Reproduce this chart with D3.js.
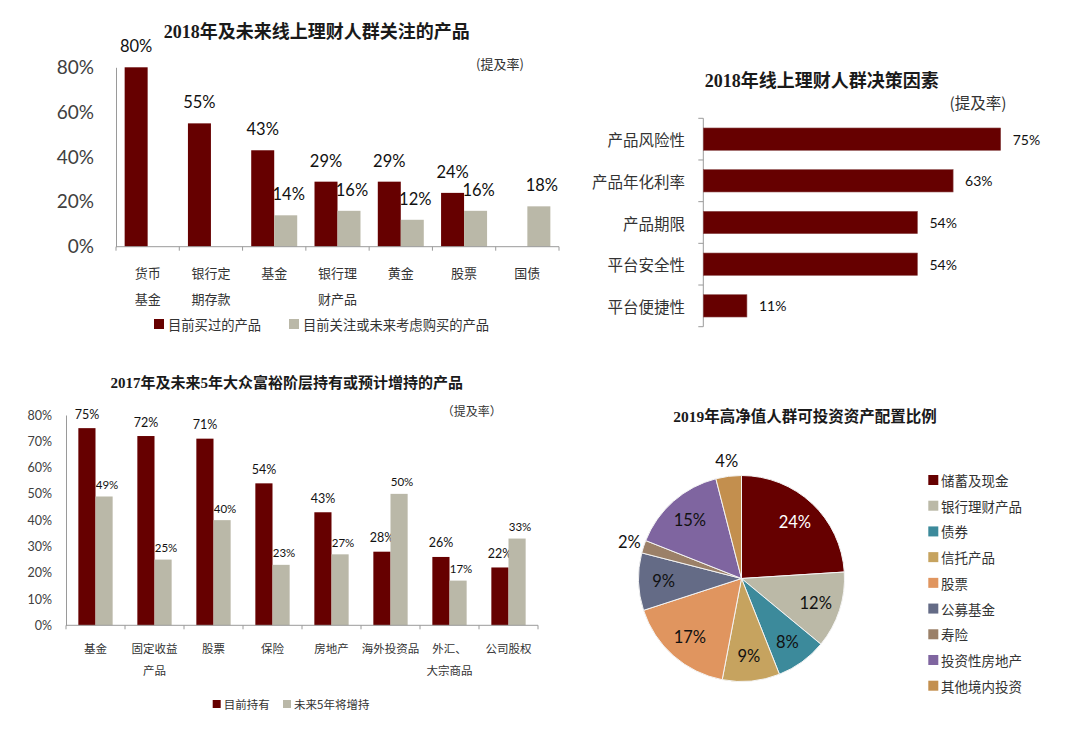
<!DOCTYPE html>
<html><head><meta charset="utf-8">
<script src="https://cdn.jsdelivr.net/npm/d3@7"></script>
<style>
body{margin:0;background:#fff;}
svg{display:block;}
text{font-family:"Noto Sans CJK SC","Noto Sans",sans-serif;}
.title{font-family:"Liberation Serif","Noto Sans CJK SC",serif;font-weight:bold;fill:#1a1a1a;}
</style>
</head><body>
<svg id="c" width="1080" height="732"></svg>
<script>
// ---------- DATA ----------
const c1Categories = ["货币\n基金","银行定\n期存款","基金","银行理\n财产品","黄金","股票","国债"];
const c1Bought = [80,55,43,29,29,24,null];
const c1Watch  = [null,null,14,16,12,16,18];
const c1Series = ["目前买过的产品","目前关注或未来考虑购买的产品"];
const c1Ticks  = [0,20,40,60,80];

const c2Factors = ["产品风险性","产品年化利率","产品期限","平台安全性","平台便捷性"];
const c2Values  = [75,63,54,54,11];

const c3Categories = ["基金","固定收益\n产品","股票","保险","房地产","海外投资品","外汇、\n大宗商品","公司股权"];
const c3Holding = [75,72,71,54,43,28,26,22];
const c3Future  = [49,25,40,23,27,50,17,33];
const c3Series  = ["目前持有","未来5年将增持"];
const c3Ticks   = [0,10,20,30,40,50,60,70,80];

const c4Names  = ["储蓄及现金","银行理财产品","债券","信托产品","股票","公募基金","寿险","投资性房地产","其他境内投资"];
const c4Values = [24,12,8,9,17,9,2,15,4];

// ---------- STYLE ----------
const MAROON = "#660000", GRAY = "#BAB8A8";
const c4Colors = ["#660000","#BBB9A7","#3C8A9B","#C6A35F","#E0955F","#646B86","#9B8068","#7F65A0","#C38F4E"];
const AXIS = "#9a9a9a";
const pct = v => v + "%";

const svg = d3.select("#c");

function multiline(sel, lines, lh){
  lines.forEach((l,i)=> sel.append("tspan").attr("x", sel.attr("x")).attr("dy", i===0?0:lh).text(l));
}

// ================= CHART 1 =================
(function(){
  const g = svg.append("g");
  const x0 = d3.scaleBand().domain(c1Categories).range([116,559]);
  const x1 = d3.scaleBand().domain([0,1]).range([0,x0.bandwidth()]).paddingOuter(0.376);
  const y = d3.scaleLinear().domain([0,80]).range([246.7,67.3]);

  g.append("text").attr("class","title").attr("x",316.7).attr("y",31.7)
    .attr("text-anchor","middle").attr("dominant-baseline","central").style("font-size","18px")
    .text("2018年及未来线上理财人群关注的产品");
  g.append("text").attr("x",500).attr("y",63).attr("text-anchor","middle").attr("dominant-baseline","central")
    .style("font-size","13px").attr("fill","#333").text("(提及率)");

  const ya = g.append("g").attr("transform","translate(116,0)")
    .call(d3.axisLeft(y).tickValues(c1Ticks).tickFormat(pct).tickSize(0).tickPadding(22).tickSizeOuter(0));
  ya.select(".domain").attr("stroke",AXIS);
  ya.selectAll("text").style("font-size","19px").attr("fill","#404040").style("font-family","Lato,'Noto Sans CJK SC',sans-serif");

  const series = [c1Bought, c1Watch];
  const colors = [MAROON, GRAY];
  series.forEach((vals,si)=>{
    c1Categories.forEach((c,i)=>{
      const v = vals[i]; if(v==null) return;
      const bx = x0(c)+x1(si);
      g.append("rect").attr("x",bx).attr("y",y(v)).attr("width",x1.bandwidth()).attr("height",y(0)-y(v))
        .attr("fill",colors[si]);
      g.append("text").attr("x",bx+x1.bandwidth()/2+(si?3:0)).attr("y",y(v)-21)
        .attr("text-anchor","middle").attr("dominant-baseline","central")
        .style("font-size","16.5px").style("font-family","Lato,'Noto Sans CJK SC',sans-serif").attr("fill","#111").text(pct(v));
    });
  });

  g.append("line").attr("x1",x0.range()[0]).attr("x2",x0.range()[1]).attr("y1",y(0)).attr("y2",y(0)).attr("stroke",AXIS);
  const bounds = c1Categories.map(c=>x0(c)).concat([x0.range()[1]]);
  bounds.forEach(b=> g.append("line").attr("x1",b).attr("x2",b).attr("y1",y(0)).attr("y2",y(0)+4).attr("stroke",AXIS));
  c1Categories.forEach(c=>{
    const t = g.append("text").attr("x",x0(c)+x0.bandwidth()/2).attr("y",272).attr("text-anchor","middle")
      .attr("dominant-baseline","central").style("font-size","13px").attr("fill","#333");
    multiline(t, c.split("\n"), 25.5);
  });

  const lx = [154,289];
  c1Series.forEach((s,i)=>{
    g.append("rect").attr("x",lx[i]).attr("y",319).attr("width",10).attr("height",10).attr("fill",colors[i]);
    g.append("text").attr("x",lx[i]+14).attr("y",324).attr("dominant-baseline","central")
      .style("font-size","13.3px").attr("fill","#333").text(s);
  });
})();

// ================= CHART 2 =================
(function(){
  const g = svg.append("g");
  const y = d3.scaleBand().domain(c2Factors).range([118.3,326.7]).paddingInner(0.465).paddingOuter(0.2325);
  const x = d3.scaleLinear().domain([0,80]).range([703.3,703.3+317.2]);

  g.append("text").attr("class","title").attr("x",821.7).attr("y",80.7)
    .attr("text-anchor","middle").attr("dominant-baseline","central").style("font-size","18px")
    .text("2018年线上理财人群决策因素");
  g.append("text").attr("x",978).attr("y",102).attr("text-anchor","middle").attr("dominant-baseline","central")
    .style("font-size","15.5px").attr("fill","#333").text("(提及率)");

  g.append("line").attr("x1",x(0)).attr("x2",x(0)).attr("y1",y.range()[0]).attr("y2",y.range()[1]).attr("stroke",AXIS);
  const step = y.step();
  const bounds = c2Factors.map(f=>y(f)-y.paddingInner()*step/2).concat([y.range()[1]]);
  bounds.forEach(b=> g.append("line").attr("x1",x(0)-5).attr("x2",x(0)).attr("y1",b).attr("y2",b).attr("stroke",AXIS));

  c2Factors.forEach((f,i)=>{
    const v = c2Values[i];
    g.append("rect").attr("x",x(0)).attr("y",y(f)).attr("width",x(v)-x(0)).attr("height",y.bandwidth())
      .attr("fill",MAROON).attr("stroke","#8a4848").attr("stroke-width",0.6);
    g.append("text").attr("x",x(v)+12).attr("y",y(f)+y.bandwidth()/2).attr("dominant-baseline","central")
      .style("font-size","14px").style("font-family","Lato,'Noto Sans CJK SC',sans-serif").attr("fill","#111").text(pct(v));
    g.append("text").attr("x",685).attr("y",y(f)+y.bandwidth()/2).attr("text-anchor","end").attr("dominant-baseline","central")
      .style("font-size","15.5px").attr("fill","#333").text(f);
  });
})();

// ================= CHART 3 =================
(function(){
  const g = svg.append("g");
  const x0 = d3.scaleBand().domain(c3Categories).range([66,538]);
  const x1 = d3.scaleBand().domain([0,1]).range([0,x0.bandwidth()]).paddingOuter(0.72);
  const y = d3.scaleLinear().domain([0,80]).range([625.3,415]);

  g.append("text").attr("class","title").attr("x",286.7).attr("y",383)
    .attr("text-anchor","middle").attr("dominant-baseline","central").style("font-size","15px")
    .text("2017年及未来5年大众富裕阶层持有或预计增持的产品");
  g.append("text").attr("x",471.7).attr("y",410).attr("text-anchor","middle").attr("dominant-baseline","central")
    .style("font-size","12px").attr("fill","#333").text("（提及率）");

  const ya = g.append("g").attr("transform","translate(66,0)")
    .call(d3.axisLeft(y).tickValues(c3Ticks).tickFormat(pct).tickSize(0).tickPadding(14).tickSizeOuter(0));
  ya.select(".domain").attr("stroke",AXIS);
  ya.selectAll("text").style("font-size","12.5px").attr("fill","#404040").style("font-family","Lato,'Noto Sans CJK SC',sans-serif");

  const series = [c3Holding, c3Future];
  const colors = [MAROON, GRAY];
  const lsize = ["12.5px","11.5px"];
  series.forEach((vals,si)=>{
    c3Categories.forEach((c,i)=>{
      const v = vals[i];
      const bx = x0(c)+x1(si);
      g.append("rect").attr("x",bx).attr("y",y(v)).attr("width",x1.bandwidth()).attr("height",y(0)-y(v))
        .attr("fill",colors[si]);
      g.append("text").attr("x",bx+x1.bandwidth()/2+(si?3:0)).attr("y",y(v)-(si?12:14))
        .attr("text-anchor","middle").attr("dominant-baseline","central")
        .style("font-size",lsize[si]).style("font-family","Lato,'Noto Sans CJK SC',sans-serif")
        .attr("fill","#111").text(pct(v));
    });
  });

  g.append("line").attr("x1",x0.range()[0]).attr("x2",x0.range()[1]).attr("y1",y(0)).attr("y2",y(0)).attr("stroke",AXIS);
  const bounds = c3Categories.map(c=>x0(c)).concat([x0.range()[1]]);
  bounds.forEach(b=> g.append("line").attr("x1",b).attr("x2",b).attr("y1",y(0)).attr("y2",y(0)+4).attr("stroke",AXIS));
  c3Categories.forEach(c=>{
    const t = g.append("text").attr("x",x0(c)+x0.bandwidth()/2).attr("y",647.7).attr("text-anchor","middle")
      .attr("dominant-baseline","central").style("font-size","11.5px").attr("fill","#333");
    multiline(t, c.split("\n"), 22.5);
  });

  const lx = [212.7,283];
  c3Series.forEach((s,i)=>{
    g.append("rect").attr("x",lx[i]).attr("y",700).attr("width",8).attr("height",8).attr("fill",colors[i]);
    g.append("text").attr("x",lx[i]+11).attr("y",704).attr("dominant-baseline","central")
      .style("font-size","11.5px").attr("fill","#333").text(s);
  });
})();

// ================= CHART 4 =================
(function(){
  const g = svg.append("g");
  const cx = 741.5, cy = 578.5, R = 103;
  g.append("text").attr("class","title").attr("x",805).attr("y",416.7)
    .attr("text-anchor","middle").attr("dominant-baseline","central").style("font-size","15.5px")
    .text("2019年高净值人群可投资资产配置比例");

  const data = c4Names.map((n,i)=>({name:n,value:c4Values[i],color:c4Colors[i]}));
  const pie = d3.pie().sort(null).value(d=>d.value).startAngle(0).endAngle(2*Math.PI);
  const arcs = pie(data);
  const arc = d3.arc().innerRadius(0).outerRadius(R);
  const inArc = d3.arc().innerRadius(78).outerRadius(78);
  const outArc = d3.arc().innerRadius(118).outerRadius(118);
  const pg = g.append("g").attr("transform",`translate(${cx},${cy})`);
  pg.selectAll("path").data(arcs).join("path").attr("d",arc).attr("fill",d=>d.data.color)
    .attr("stroke","#f4f4f4").attr("stroke-width",1);
  pg.selectAll("text").data(arcs).join("text")
    .attr("transform",d=>`translate(${(d.data.value<5?outArc:inArc).centroid(d)})`)
    .attr("text-anchor","middle").attr("dominant-baseline","central")
    .style("font-size","16.5px").style("font-family","Lato,'Noto Sans CJK SC',sans-serif")
    .attr("fill",d=> (d.data.value>=5 && d3.hsl(d.data.color).l<0.25) ? "#fff" : "#111")
    .text(d=>pct(d.data.value));

  const ly = d3.scalePoint().domain(c4Names).range([480,685.7]);
  c4Names.forEach((n,i)=>{
    g.append("rect").attr("x",928.3).attr("y",ly(n)-5).attr("width",10).attr("height",10).attr("fill",c4Colors[i]);
    g.append("text").attr("x",941).attr("y",ly(n)).attr("dominant-baseline","central")
      .style("font-size","13.5px").attr("fill","#333").text(n);
  });
})();
</script>
</body></html>
